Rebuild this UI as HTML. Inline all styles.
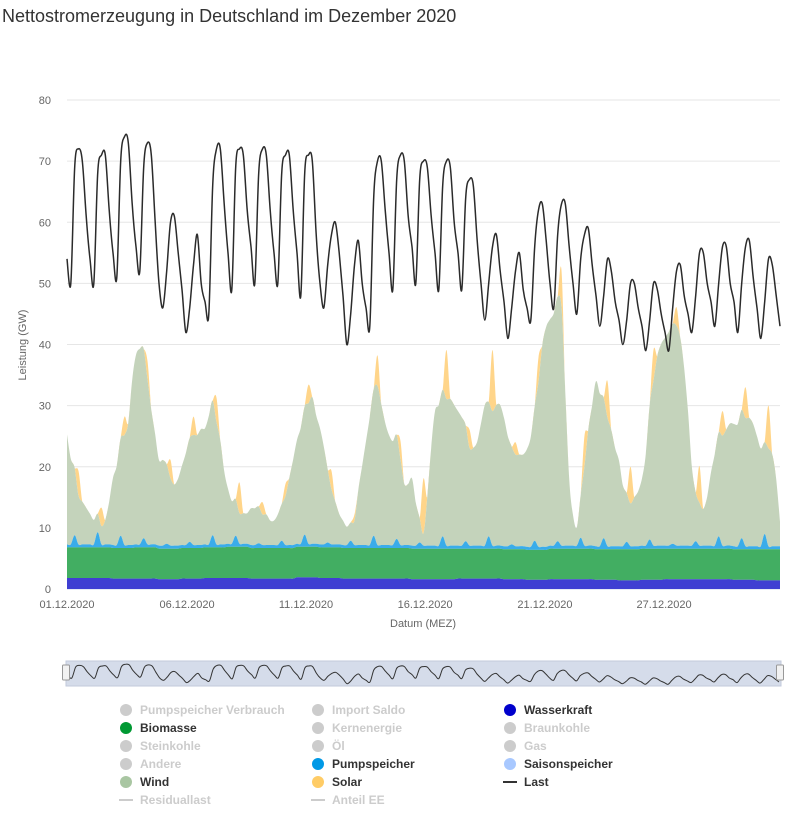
<!DOCTYPE html>
<html><head><meta charset="utf-8"><style>
body{margin:0;background:#fff;font-family:"Liberation Sans",sans-serif;}
svg{display:block}
</style></head><body>
<svg id="c" width="790" height="830">
<text x="2" y="22" font-size="18" fill="#333">Nettostromerzeugung in Deutschland im Dezember 2020</text>
<g id="grid"></g><g id="areas"></g><g id="lines"></g><g id="axes"></g><g id="nav"></g><g id="legend"></g>
</svg>
<script>
const yTicks=[0,10,20,30,40,50,60,70,80];
const xTickDays=[0,5.22,10.39,15.57,20.78,25.96];
const xTickLabels=["01.12.2020","06.12.2020","11.12.2020","16.12.2020","21.12.2020","27.12.2020"];
// load, 4-hour samples (0,4,8,12,16,20h per day)
const load=[54,50,69,72,70,61, 54,50,68,71,71,62, 55,51,70,74,73,63, 56,52,69,73,71,60, 50,46,52,60,61,55, 49,42,46,53,58,50,
47,45,66,72,72,63, 55,49,69,72,71,62, 56,50,68,72,71,62, 55,50,68,71,71,62, 55,48,68,71,70,58, 50,46,53,58,60,55, 48,40,45,53,57,50,
46,43,64,70,70,62, 55,49,67,71,70,61, 56,50,67,70,69,61, 55,49,66,70,69,60, 55,49,64,67,66,57, 50,44,50,56,58,52, 47,41,46,52,55,49,
46,44,56,62,63,57, 50,46,58,63,63,56, 50,45,54,58,59,53, 48,43,48,54,52,47, 44,40,44,50,50,46, 43,39,44,50,49,45, 42,39,46,52,53,48,
45,42,48,55,55,50, 47,43,50,56,56,50, 47,42,50,56,57,51, 46,41,47,54,53,48, 43];
const wind=[18,14,11,8,7,6,5,4,3,3,4,7,11,13,16,18,20,27,31,32,31,27,22,18,14,14,13,11,10,11,13,15,17,18,18,19,19,21,22,20,17,12,9,7,6,5,5,5,6,6,6,5,5,4,4,5,6,8,11,14,17,19,21,23,24,21,19,16,12,9,7,5,4,3,3,4,9,13,17,21,24,26,23,20,18,17,17,14,10,10,11,7,4,2,8,16,22,23,24,24,24,23,22,21,19,16,16,17,20,23,22,22,23,23,21,18,16,15,15,15,16,18,22,27,33,36,37,38,40,39,25,11,5,3,7,13,19,23,27,25,23,21,19,16,14,10,8,7,8,9,11,15,22,27,31,33,34,35,36,36,34,29,22,13,8,7,6,8,12,15,17,18,19,20,20,20,21,21,21,20,18,16,15,16,15,11,4];
// daily values
const hydro=[1.8,1.8,1.7,1.7,1.6,1.7,1.8,1.8,1.7,1.7,1.9,1.8,1.7,1.7,1.7,1.6,1.6,1.7,1.7,1.6,1.5,1.6,1.6,1.5,1.4,1.5,1.6,1.6,1.6,1.5,1.4];
const biomass=[5.0,5.0,5.0,5.1,5.0,5.0,5.0,5.1,5.0,5.0,5.0,5.0,5.0,5.0,5.0,5.0,5.0,4.9,4.9,4.9,4.9,5.0,5.0,5.0,5.1,5.1,5.0,5.0,5.0,5.0,5.1];
const pumpPeak=[2.0,2.5,2.0,1.5,0.8,1.0,2.0,1.8,0.8,1.2,2.0,0.8,1.2,2.0,1.5,1.0,2.0,1.2,2.0,0.8,1.5,1.2,1.8,1.8,1.2,1.5,0.8,1.2,2.0,1.8,2.5];
const solarPeak=[4,3,3,3,3,3,4,5,2,2,3,3,1,5,3,9,8,3,10,2,4,6,5,6,6,5,3,6,4,5,7];

const S="http://www.w3.org/2000/svg";
function mk(p,t,a){const e=document.createElementNS(S,t);for(const k in a)e.setAttribute(k,a[k]);document.getElementById(p).appendChild(e);return e;}
const X0=67,X1=780,Y0=589,Y80=100;
const xs=d=>X0+d*(X1-X0)/31;
const ys=v=>Y0-v*(Y0-Y80)/80;
const N=wind.length;
const dayOf=i=>Math.min(30,Math.floor(i/6));
const hourOf=i=>(i%6)*4;
function smooth(pts,start){
 let p=(start?'M':'L')+pts[0][0].toFixed(1)+','+pts[0][1].toFixed(1);
 for(let i=0;i<pts.length-1;i++){
  const p0=pts[Math.max(0,i-1)],p1=pts[i],p2=pts[i+1],p3=pts[Math.min(pts.length-1,i+2)];
  const c1x=p1[0]+(p2[0]-p0[0])/6,c1y=p1[1]+(p2[1]-p0[1])/6;
  const c2x=p2[0]-(p3[0]-p1[0])/6,c2y=p2[1]-(p3[1]-p1[1])/6;
  p+='C'+c1x.toFixed(1)+','+c1y.toFixed(1)+' '+c2x.toFixed(1)+','+c2y.toFixed(1)+' '+p2[0].toFixed(1)+','+p2[1].toFixed(1);
 }
 return p;
}

yTicks.forEach(v=>{
 const l=mk('grid','line',{x1:X0,x2:X1,y1:ys(v),y2:ys(v),stroke:v?'#e6e6e6':'#ccd6eb','stroke-width':1});
 
 
 const t=mk('axes','text',{x:51,y:ys(v)+4,'text-anchor':'end','font-size':11,fill:'#666'});
 t.textContent=v;
 
 
});
xTickDays.forEach((d,k)=>{
 const t=mk('axes','text',{x:xs(d),y:608,'text-anchor':'middle','font-size':11,fill:'#666'});
 t.textContent=xTickLabels[k];
 
 
});
let t=mk('axes','text',{x:423,y:627,'text-anchor':'middle','font-size':11,fill:'#666'});t.textContent='Datum (MEZ)';


t=mk('axes','text',{x:0,y:0,'text-anchor':'middle','font-size':11,fill:'#666',transform:'translate(26,345) rotate(-90)'});t.textContent='Leistung (GW)';



// stacked layers
const L=[];
for(let i=0;i<N;i++){
 const d=dayOf(i),h=hourOf(i);
 const hy=hydro[d],bi=biomass[d];
 const pu=h===8?pumpPeak[d]:0.5;
 const so=h===12?solarPeak[d]:0;
 const b1=hy,b2=b1+bi,b3=b2+pu,b4=b3+wind[i],b5=b4+so;
 L.push([0,b1,b2,b3,b4,b5]);
}
function area(lo,hi,fill,name){
 const top=[],bot=[];
 for(let i=0;i<N;i++)top.push([xs(i/6),ys(L[i][hi])]);
 for(let i=N-1;i>=0;i--)bot.push([xs(i/6),ys(L[i][lo])]);
 const e=mk('areas','path',{d:smooth(top,true)+smooth(bot,false)+'Z',fill:fill});
 
 
}
area(4,5,'#ffd58a','solar-area');
area(3,4,'#c4d3bb','wind-area');
area(2,3,'#3aacea','pumpspeicher-area');
area(1,2,'#42ae62','biomasse-area');
area(0,1,'#3f3fd2','wasserkraft-area');

let e=mk('lines','path',{d:smooth(load.map((v,i)=>[xs(i/6),ys(v)]),true),fill:'none',stroke:'#2b2b2b','stroke-width':1.5,'stroke-linejoin':'round'});



// navigator
e=mk('nav','rect',{x:66,y:661,width:715,height:25,fill:'#d5dcea',stroke:'#c2cadb'});


const ny=v=>686-(v-36)*24/42;
e=mk('nav','path',{d:smooth(load.map((v,i)=>[68+i/6*(711/31),ny(v)]),true),fill:'none',stroke:'#333','stroke-width':1});


[66,780].forEach((x,k)=>{
 const h=mk('nav','rect',{x:x-3.5,y:665,width:7,height:15,rx:1,fill:'#f2f2f2',stroke:'#999'});
 
 
});

// legend
const legItems=[
 ['Pumpspeicher Verbrauch',0,0,'#ccc',false,'c'],['Import Saldo',1,0,'#ccc',false,'c'],['Wasserkraft',2,0,'#0000cc',true,'c'],
 ['Biomasse',0,1,'#009933',true,'c'],['Kernenergie',1,1,'#ccc',false,'c'],['Braunkohle',2,1,'#ccc',false,'c'],
 ['Steinkohle',0,2,'#ccc',false,'c'],['Öl',1,2,'#ccc',false,'c'],['Gas',2,2,'#ccc',false,'c'],
 ['Andere',0,3,'#ccc',false,'c'],['Pumpspeicher',1,3,'#0099e6',true,'c'],['Saisonspeicher',2,3,'#a8c8ff',true,'c'],
 ['Wind',0,4,'#a9c6a2',true,'c'],['Solar',1,4,'#ffcc66',true,'c'],['Last',2,4,'#333',true,'l'],
 ['Residuallast',0,5,'#ccc',false,'l'],['Anteil EE',1,5,'#ccc',false,'l']];
const colX=[126,318,510];
legItems.forEach(it=>{
 const cx=colX[it[1]],cy=710+it[2]*18;
 const g=document.createElementNS(S,'g');
 
 
 document.getElementById('legend').appendChild(g);
 if(it[5]==='c'){const c=document.createElementNS(S,'circle');c.setAttribute('cx',cx);c.setAttribute('cy',cy);c.setAttribute('r',6);c.setAttribute('fill',it[3]);g.appendChild(c);}
 else{const l=document.createElementNS(S,'line');l.setAttribute('x1',cx-7);l.setAttribute('x2',cx+7);l.setAttribute('y1',cy);l.setAttribute('y2',cy);l.setAttribute('stroke',it[3]);l.setAttribute('stroke-width',2);g.appendChild(l);}
 const tx=document.createElementNS(S,'text');tx.setAttribute('x',cx+14);tx.setAttribute('y',cy+4);tx.setAttribute('font-size',12);tx.setAttribute('font-weight','bold');tx.setAttribute('fill',it[4]?'#333':'#ccc');tx.textContent=it[0];g.appendChild(tx);
});
</script>
</body></html>
